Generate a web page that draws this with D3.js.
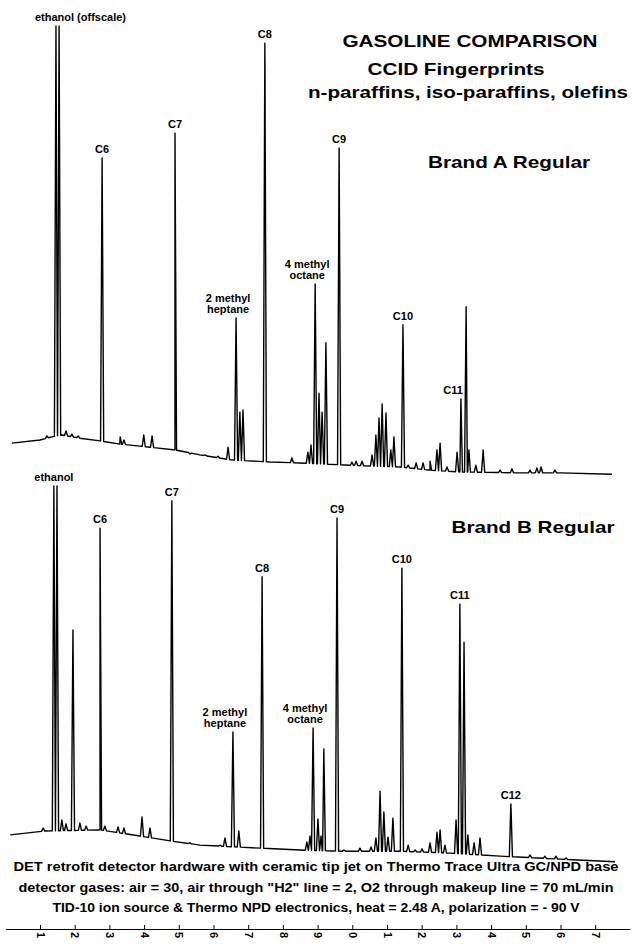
<html>
<head>
<script type="text/javascript" src="https://cdnjs.cloudflare.com/ajax/libs/d3/7.8.5/d3.min.js"></script>
<style>
body { margin: 0; background: #fff; }
text { font-family: "Liberation Sans", Arial, sans-serif; font-weight: bold; fill: #000; }
</style>
</head>
<body>
<div id="viz"></div>
<script type="text/javascript">

// retention time axis (minutes), printed with the tens digit dropped
var tickTimes = [1, 2, 3, 4, 5, 6, 7, 8, 9, 10, 11, 12, 13, 14, 15, 16, 17];
var tickLabels = ["1", "2", "3", "4", "5", "6", "7", "8", "9", "0", "1", "2", "3", "4", "5", "6", "7"];

// Brand A: baseline drift and peaks, [time, response]
var baseA = [[0.19, 7.3], [1.0, 8.0], [1.35, 8.7], [1.63, 9.1], [2.15, 8.4], [2.73, 7.8], [3.3, 7.1],
    [4.17, 6.4], [4.89, 5.8], [5.61, 4.7], [6.48, 3.6], [7.63, 3.1], [8.49, 2.9], [9.93, 2.4],
    [11.37, 2.0], [12.24, 1.3], [13.1, 0.9], [14.83, 0.7], [15.99, 0.7], [17.48, 0.4]];
var peaksA = [[1.20, 8.9], [1.46, 100], [1.55, 100], [1.75, 10.0], [1.92, 9.3], [2.10, 8.9],
    [2.79, 70.7], [3.31, 8.7], [3.42, 8.0], [3.99, 9.1], [4.23, 8.9], [4.89, 76.2], [5.32, 4.9],
    [5.76, 4.7], [6.13, 4.4], [6.42, 6.4], [6.65, 35.1], [6.76, 14.2], [6.85, 14.7], [7.48, 96.2],
    [8.26, 4.0], [8.72, 5.3], [8.81, 6.9], [8.93, 42.7], [9.04, 18.4], [9.13, 14.2], [9.24, 29.6],
    [9.62, 72.9], [9.99, 3.1], [10.11, 3.3], [10.28, 3.3], [10.57, 4.7], [10.68, 9.1], [10.77, 12.9],
    [10.86, 16.0], [10.97, 14.0], [11.11, 5.8], [11.20, 8.7], [11.46, 33.6], [11.61, 2.4],
    [11.84, 2.9], [12.04, 2.9], [12.24, 3.3], [12.44, 5.8], [12.53, 7.3], [12.73, 2.0], [13.02, 5.3],
    [13.13, 17.1], [13.28, 37.6], [13.36, 5.8], [13.56, 2.4], [13.77, 5.8], [14.26, 1.3],
    [14.60, 1.6], [15.12, 1.3], [15.32, 1.8], [15.44, 2.0], [15.84, 1.3]];
var labelsA = [["ethanol (offscale)", 1.46], ["C6", 2.79], ["C7", 4.89], ["2 methyl|heptane", 6.65],
    ["C8", 7.48], ["4 methyl|octane", 8.93], ["C9", 9.62], ["C10", 11.46], ["C11", 13.13]];

// Brand B
var baseB = [[0.14, 8.2], [1.14, 9.2], [2.73, 9.5], [3.88, 7.9], [4.75, 6.6], [5.61, 5.5], [7.34, 4.7],
    [8.49, 4.2], [9.65, 3.9], [11.37, 3.9], [12.82, 3.4], [14.26, 2.6], [15.99, 1.8], [17.57, 1.1]];
var peaksB = [[1.09, 10.0], [1.40, 100], [1.49, 100], [1.63, 12.1], [1.75, 11.1], [1.95, 62.1],
    [2.15, 11.3], [2.33, 10.5], [2.73, 88.9], [2.87, 10.5], [3.25, 10.3], [3.42, 10.0], [3.94, 12.9],
    [4.17, 10.0], [4.80, 96.1], [5.32, 6.1], [6.19, 5.5], [6.33, 7.4], [6.56, 35.3], [6.73, 9.2],
    [7.40, 76.1], [8.69, 6.3], [8.78, 7.9], [8.87, 36.3], [9.01, 12.4], [9.10, 7.9], [9.18, 30.8],
    [9.56, 91.6], [9.76, 4.2], [10.22, 4.7], [10.54, 5.0], [10.68, 7.4], [10.80, 19.7], [10.91, 14.2],
    [11.03, 7.6], [11.17, 12.6], [11.43, 78.4], [11.61, 5.5], [11.81, 4.2], [12.01, 4.5], [12.24, 6.1],
    [12.44, 8.9], [12.53, 9.5], [12.67, 5.5], [12.99, 12.1], [13.10, 68.9], [13.22, 58.9], [13.33, 8.2],
    [13.51, 6.1], [13.68, 7.4], [14.57, 16.3], [15.12, 2.9], [15.55, 2.6], [15.87, 2.6], [16.16, 2.1]];
var labelsB = [["ethanol", 1.40], ["C6", 2.73], ["C7", 4.80], ["2 methyl|heptane", 6.56], ["C8", 7.40],
    ["4 methyl|octane", 8.87], ["C9", 9.56], ["C10", 11.43], ["C11", 13.10], ["C12", 14.57]];

var titleLines = ["GASOLINE COMPARISON", "CCID Fingerprints", "n-paraffins, iso-paraffins, olefins"];
var noteLines = [
    "DET retrofit detector hardware with ceramic tip jet on Thermo Trace Ultra GC/NPD base",
    "detector gases: air = 30, air through \"H2\" line = 2, O2 through makeup line = 70 mL/min",
    "TID-10 ion source & Thermo NPD electronics, heat = 2.48 A, polarization = - 90 V"];

var svg = d3.select("#viz")
    .append("svg")
    .attr("width", 632)
    .attr("height", 946);

var x = d3.scaleLinear().domain([0, 18]).range([5.3, 629.9]);
var yA = d3.scaleLinear().domain([0, 100]).range([476, 26]);
var yB = d3.scaleLinear().domain([0, 100]).range([866, 486]);
var halfWidth = 0.045;

function baseAt(base, t) {
    var i = d3.bisector(function(d) { return d[0]; }).right(base, t);
    if (i <= 0) return base[0][1];
    if (i >= base.length) return base[base.length - 1][1];
    var a = base[i - 1], b = base[i];
    return a[1] + (b[1] - a[1]) * (t - a[0]) / (b[0] - a[0]);
}

function drawTrace(base, peaks, labels, y) {
    var pts = base.map(function(d) { return [d[0], d[1], 0]; });
    peaks.forEach(function(p) {
        pts.push([p[0] - halfWidth, baseAt(base, p[0] - halfWidth), 0]);
        pts.push([p[0], p[1], 1]);
        pts.push([p[0] + halfWidth, baseAt(base, p[0] + halfWidth), 0]);
    });
    pts.sort(function(a, b) { return a[0] - b[0] || a[2] - b[2]; });

    var line = d3.line()
        .x(function(d) { return x(d[0]); })
        .y(function(d) { return y(d[1]); });

    svg.append("path")
        .attr("d", line(pts))
        .style("fill", "none")
        .style("stroke", "#000")
        .style("stroke-width", 1.4)
        .style("stroke-linejoin", "round");

    labels.forEach(function(l) {
        var pk = peaks.find(function(p) { return Math.abs(p[0] - l[1]) < 0.001; });
        var px = x(pk[0]), py = y(pk[1]);
        var parts = l[0].split("|");
        var anchor = "middle", dx = 0;
        if (parts.length > 1) dx = -8;
        if (l[0] == "ethanol (offscale)") { anchor = "start"; dx = -21; }
        if (l[0] == "C11" && y === yA) { anchor = "end"; dx = 2; }
        var t = svg.append("text")
            .attr("x", px + dx)
            .attr("text-anchor", anchor)
            .style("font-size", "11px");
        parts.forEach(function(s, k) {
            t.append("tspan")
                .attr("x", px + dx)
                .attr("y", py - 5 - (parts.length - 1 - k) * 11)
                .text(s);
        });
    });
}

drawTrace(baseA, peaksA, labelsA, yA);
drawTrace(baseB, peaksB, labelsB, yB);

// headings
var titlePos = [[470, 47, 255], [456, 75, 177], [468, 98, 320]];
titleLines.forEach(function(s, i) {
    svg.append("text")
        .attr("x", titlePos[i][0]).attr("y", titlePos[i][1])
        .attr("text-anchor", "middle")
        .attr("textLength", titlePos[i][2])
        .attr("lengthAdjust", "spacingAndGlyphs")
        .style("font-size", "17px")
        .text(s);
});
svg.append("text").attr("x", 509).attr("y", 168).attr("text-anchor", "middle")
    .attr("textLength", 162).attr("lengthAdjust", "spacingAndGlyphs")
    .style("font-size", "17px").text("Brand A Regular");
svg.append("text").attr("x", 533).attr("y", 533).attr("text-anchor", "middle")
    .attr("textLength", 163).attr("lengthAdjust", "spacingAndGlyphs")
    .style("font-size", "17px").text("Brand B Regular");

// instrument notes
var noteWidths = [605, 595, 527];
noteLines.forEach(function(s, i) {
    svg.append("text")
        .attr("x", 316).attr("y", 871 + i * 20.5)
        .attr("text-anchor", "middle")
        .attr("textLength", noteWidths[i])
        .attr("lengthAdjust", "spacingAndGlyphs")
        .style("font-size", "12.5px")
        .text(s);
});

// time axis
var axis = d3.axisBottom(x)
    .tickValues(tickTimes)
    .tickFormat(function(d, i) { return tickLabels[i]; })
    .tickSizeInner(-4)
    .tickSizeOuter(0);

var gx = svg.append("g")
    .attr("transform", "translate(0,929)")
    .call(axis);
gx.select(".domain").attr("stroke", "#000").attr("stroke-width", 1);
gx.selectAll(".tick line").attr("stroke", "#000");
gx.selectAll(".tick text")
    .attr("transform", "rotate(90)")
    .attr("x", 3)
    .attr("y", 0)
    .attr("dy", "0.35em")
    .style("text-anchor", "start")
    .style("font-size", "11px")
    .style("font-family", "\"Liberation Sans\", Arial, sans-serif")
    .style("font-weight", "bold");

</script>
</body>
</html>
